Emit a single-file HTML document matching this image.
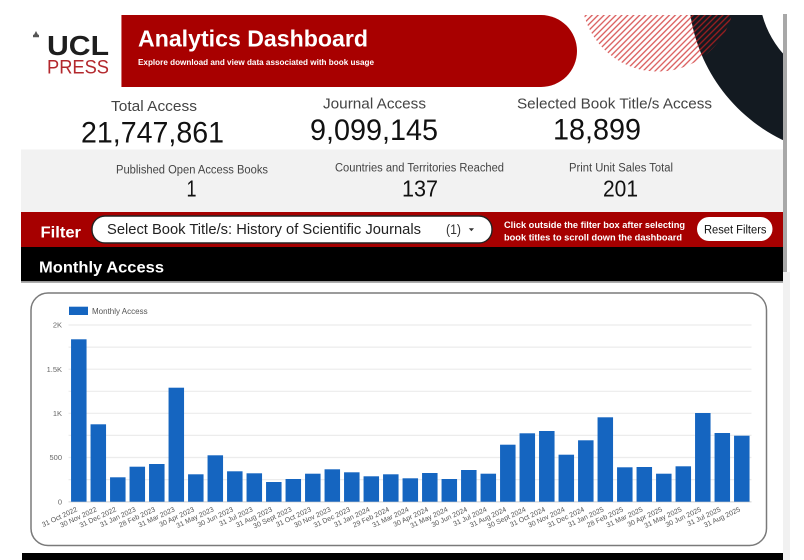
<!DOCTYPE html>
<html><head><meta charset="utf-8"><style>
html,body{margin:0;padding:0;background:#fff;}
svg{display:block;}
text{font-family:"Liberation Sans",Arial,sans-serif;}
</style></head><body>
<svg width="804" height="560" viewBox="0 0 804 560" xmlns="http://www.w3.org/2000/svg">
<defs>
<clipPath id="hdr"><rect x="0" y="15" width="783" height="135"/></clipPath>
<pattern id="hatch" width="4.2" height="4.2" patternUnits="userSpaceOnUse" patternTransform="rotate(45)">
<line x1="1" y1="0" x2="1" y2="4.2" stroke="#cc1f1f" stroke-width="1.3" stroke-opacity="0.75"/>
</pattern>
</defs>
<rect width="804" height="560" fill="#fff"/>

<!-- decorations -->
<g clip-path="url(#hdr)">
<path fill-rule="evenodd" fill="#131a21" d="M855,-176.5 a166.5,166.5 0 1,0 0.01,0 Z M855,-106 a96,96 0 1,0 0.01,0 Z"/>
<circle cx="658" cy="-5" r="76.6" fill="url(#hatch)"/>
</g>

<!-- logo -->
<path d="M33,37.3 h6 v-2.5 h-1 l-2,-3.8 l-2,3.8 h-1 z" fill="#555"/>
<text x="47" y="55" font-size="28" font-weight="bold" fill="#1e1e1e" textLength="62" lengthAdjust="spacingAndGlyphs">UCL</text>
<text x="47" y="73.5" font-size="19.5" fill="#b3282d" textLength="62" lengthAdjust="spacingAndGlyphs">PRESS</text>

<!-- banner -->
<path d="M121,15 H541 A36,36 0 0 1 541,87 H121 Z" fill="#a80000"/>
<line x1="121.5" y1="15" x2="121.5" y2="87" stroke="#d07070" stroke-width="1"/>
<text x="138" y="46.5" font-size="23" font-weight="bold" fill="#fff" textLength="230" lengthAdjust="spacingAndGlyphs">Analytics Dashboard</text>
<text x="138" y="65" font-size="8.5" font-weight="bold" fill="#fff" textLength="236" lengthAdjust="spacingAndGlyphs">Explore download and view data associated with book usage</text>

<!-- KPIs -->
<text x="111" y="111" font-size="15" fill="#444" textLength="86" lengthAdjust="spacingAndGlyphs">Total Access</text>
<text x="81" y="142.7" font-size="30" fill="#111" textLength="143" lengthAdjust="spacingAndGlyphs">21,747,861</text>
<text x="323" y="108.5" font-size="15" fill="#444" textLength="103" lengthAdjust="spacingAndGlyphs">Journal Access</text>
<text x="310" y="140" font-size="30" fill="#111" textLength="128" lengthAdjust="spacingAndGlyphs">9,099,145</text>
<text x="517" y="108.5" font-size="15" fill="#444" textLength="195" lengthAdjust="spacingAndGlyphs">Selected Book Title/s Access</text>
<text x="553" y="139.5" font-size="30" fill="#111" textLength="88" lengthAdjust="spacingAndGlyphs">18,899</text>

<!-- gray panel -->
<rect x="21" y="149.5" width="762" height="62.5" fill="#f2f2f2"/>
<text x="116" y="173.3" font-size="11.5" fill="#444" textLength="152" lengthAdjust="spacingAndGlyphs">Published Open Access Books</text>
<text x="186.5" y="196.7" font-size="23" fill="#111" textLength="10" lengthAdjust="spacingAndGlyphs">1</text>
<text x="335" y="171.7" font-size="11.5" fill="#444" textLength="169" lengthAdjust="spacingAndGlyphs">Countries and Territories Reached</text>
<text x="402" y="196.7" font-size="23" fill="#111" textLength="36" lengthAdjust="spacingAndGlyphs">137</text>
<text x="569" y="171.7" font-size="11.5" fill="#444" textLength="104" lengthAdjust="spacingAndGlyphs">Print Unit Sales Total</text>
<text x="603" y="196.7" font-size="23" fill="#111" textLength="35" lengthAdjust="spacingAndGlyphs">201</text>

<!-- filter bar -->
<rect x="21" y="212" width="762" height="35" fill="#a60000"/>
<text x="40.5" y="237.3" font-size="16" font-weight="bold" fill="#fff" textLength="40.5" lengthAdjust="spacingAndGlyphs">Filter</text>
<rect x="92" y="216" width="400" height="27" rx="13" fill="#fff" stroke="#222" stroke-width="1.4"/>
<text x="107" y="234" font-size="14.5" fill="#222" textLength="314" lengthAdjust="spacingAndGlyphs">Select Book Title/s: History of Scientific Journals</text>
<text x="446" y="234" font-size="14" fill="#333" textLength="15" lengthAdjust="spacingAndGlyphs">(1)</text>
<polygon points="468.8,228.3 474,228.3 471.4,231.2" fill="#333"/>
<text x="504" y="228" font-size="9.5" font-weight="bold" fill="#fff" textLength="181" lengthAdjust="spacingAndGlyphs">Click outside the filter box after selecting</text>
<text x="504" y="240.3" font-size="9.5" font-weight="bold" fill="#fff" textLength="178" lengthAdjust="spacingAndGlyphs">book titles to scroll down the dashboard</text>
<rect x="697" y="217" width="75.5" height="24" rx="12" fill="#fff"/>
<text x="704" y="233.3" font-size="11.5" fill="#111" textLength="62.5" lengthAdjust="spacingAndGlyphs">Reset Filters</text>

<!-- monthly access header -->
<rect x="21" y="247" width="762" height="34" fill="#000"/>
<rect x="21" y="281" width="762" height="1.8" fill="#999"/>
<text x="39" y="272.3" font-size="16" font-weight="bold" fill="#fff" textLength="125" lengthAdjust="spacingAndGlyphs">Monthly Access</text>

<!-- chart card -->
<rect x="31" y="293" width="735.5" height="252.5" rx="17" fill="#fff" stroke="#7a7a7a" stroke-width="1.5"/>
<rect x="69" y="306.7" width="19" height="8.3" fill="#1565c0"/>
<text x="92" y="314" font-size="8" fill="#555">Monthly Access</text>

<g stroke="#ececec" stroke-width="1.2">
<line x1="68.5" y1="325" x2="751.5" y2="325"/>
<line x1="68.5" y1="347.1" x2="751.5" y2="347.1"/>
<line x1="68.5" y1="369.2" x2="751.5" y2="369.2"/>
<line x1="68.5" y1="391.3" x2="751.5" y2="391.3"/>
<line x1="68.5" y1="413.3" x2="751.5" y2="413.3"/>
<line x1="68.5" y1="435.4" x2="751.5" y2="435.4"/>
<line x1="68.5" y1="457.5" x2="751.5" y2="457.5"/>
<line x1="68.5" y1="479.6" x2="751.5" y2="479.6"/>
</g>
<line x1="68.5" y1="501.9" x2="751.5" y2="501.9" stroke="#cfcfcf" stroke-width="1"/>

<g font-size="7.5" fill="#666" text-anchor="end">
<text x="62" y="327.7">2K</text>
<text x="62" y="371.9">1.5K</text>
<text x="62" y="416">1K</text>
<text x="62" y="460.2">500</text>
<text x="62" y="504.4">0</text>
</g>

<g fill="#1565c0">
<rect x="71.05" y="339.3" width="15.5" height="162.4"/>
<rect x="90.55" y="424.3" width="15.5" height="77.4"/>
<rect x="110.05" y="477.3" width="15.5" height="24.4"/>
<rect x="129.55" y="466.7" width="15.5" height="35"/>
<rect x="149.05" y="464" width="15.5" height="37.7"/>
<rect x="168.55" y="387.7" width="15.5" height="114"/>
<rect x="188.05" y="474.3" width="15.5" height="27.4"/>
<rect x="207.55" y="455.3" width="15.5" height="46.4"/>
<rect x="227.05" y="471.3" width="15.5" height="30.4"/>
<rect x="246.55" y="473.3" width="15.5" height="28.4"/>
<rect x="266.05" y="482" width="15.5" height="19.7"/>
<rect x="285.55" y="479" width="15.5" height="22.7"/>
<rect x="305.05" y="473.7" width="15.5" height="28"/>
<rect x="324.55" y="469.3" width="15.5" height="32.4"/>
<rect x="344.05" y="472.3" width="15.5" height="29.4"/>
<rect x="363.55" y="476.3" width="15.5" height="25.4"/>
<rect x="383.05" y="474.3" width="15.5" height="27.4"/>
<rect x="402.55" y="478.3" width="15.5" height="23.4"/>
<rect x="422.05" y="473" width="15.5" height="28.7"/>
<rect x="441.55" y="479" width="15.5" height="22.7"/>
<rect x="461.05" y="470" width="15.5" height="31.7"/>
<rect x="480.55" y="473.7" width="15.5" height="28"/>
<rect x="500.05" y="444.7" width="15.5" height="57"/>
<rect x="519.55" y="433.3" width="15.5" height="68.4"/>
<rect x="539.05" y="431" width="15.5" height="70.7"/>
<rect x="558.55" y="454.7" width="15.5" height="47"/>
<rect x="578.05" y="440.3" width="15.5" height="61.4"/>
<rect x="597.55" y="417.3" width="15.5" height="84.4"/>
<rect x="617.05" y="467.3" width="15.5" height="34.4"/>
<rect x="636.55" y="467" width="15.5" height="34.7"/>
<rect x="656.05" y="473.7" width="15.5" height="28"/>
<rect x="675.55" y="466.3" width="15.5" height="35.4"/>
<rect x="695.05" y="413" width="15.5" height="88.7"/>
<rect x="714.55" y="433" width="15.5" height="68.7"/>
<rect x="734.05" y="435.7" width="15.5" height="66"/>
</g>

<g font-size="7" fill="#555" text-anchor="end">
<text transform="translate(77.8,511) rotate(-25)">31 Oct 2022</text>
<text transform="translate(97.3,511) rotate(-25)">30 Nov 2022</text>
<text transform="translate(116.8,511) rotate(-25)">31 Dec 2022</text>
<text transform="translate(136.3,511) rotate(-25)">31 Jan 2023</text>
<text transform="translate(155.8,511) rotate(-25)">28 Feb 2023</text>
<text transform="translate(175.3,511) rotate(-25)">31 Mar 2023</text>
<text transform="translate(194.8,511) rotate(-25)">30 Apr 2023</text>
<text transform="translate(214.3,511) rotate(-25)">31 May 2023</text>
<text transform="translate(233.8,511) rotate(-25)">30 Jun 2023</text>
<text transform="translate(253.3,511) rotate(-25)">31 Jul 2023</text>
<text transform="translate(272.8,511) rotate(-25)">31 Aug 2023</text>
<text transform="translate(292.3,511) rotate(-25)">30 Sept 2023</text>
<text transform="translate(311.8,511) rotate(-25)">31 Oct 2023</text>
<text transform="translate(331.3,511) rotate(-25)">30 Nov 2023</text>
<text transform="translate(350.8,511) rotate(-25)">31 Dec 2023</text>
<text transform="translate(370.3,511) rotate(-25)">31 Jan 2024</text>
<text transform="translate(389.8,511) rotate(-25)">29 Feb 2024</text>
<text transform="translate(409.3,511) rotate(-25)">31 Mar 2024</text>
<text transform="translate(428.8,511) rotate(-25)">30 Apr 2024</text>
<text transform="translate(448.3,511) rotate(-25)">31 May 2024</text>
<text transform="translate(467.8,511) rotate(-25)">30 Jun 2024</text>
<text transform="translate(487.3,511) rotate(-25)">31 Jul 2024</text>
<text transform="translate(506.8,511) rotate(-25)">31 Aug 2024</text>
<text transform="translate(526.3,511) rotate(-25)">30 Sept 2024</text>
<text transform="translate(545.8,511) rotate(-25)">31 Oct 2024</text>
<text transform="translate(565.3,511) rotate(-25)">30 Nov 2024</text>
<text transform="translate(584.8,511) rotate(-25)">31 Dec 2024</text>
<text transform="translate(604.3,511) rotate(-25)">31 Jan 2025</text>
<text transform="translate(623.8,511) rotate(-25)">28 Feb 2025</text>
<text transform="translate(643.3,511) rotate(-25)">31 Mar 2025</text>
<text transform="translate(662.8,511) rotate(-25)">30 Apr 2025</text>
<text transform="translate(682.3,511) rotate(-25)">31 May 2025</text>
<text transform="translate(701.8,511) rotate(-25)">30 Jun 2025</text>
<text transform="translate(721.3,511) rotate(-25)">31 Jul 2025</text>
<text transform="translate(740.8,511) rotate(-25)">31 Aug 2025</text>
</g>

<!-- bottom black bar -->
<rect x="22" y="553" width="761" height="7" fill="#000"/>

<!-- scrollbar -->
<rect x="783" y="272" width="7" height="288" fill="#f1f1f1"/>
<rect x="783" y="14" width="4" height="258" fill="#a8a8a8"/>
</svg>
</body></html>
